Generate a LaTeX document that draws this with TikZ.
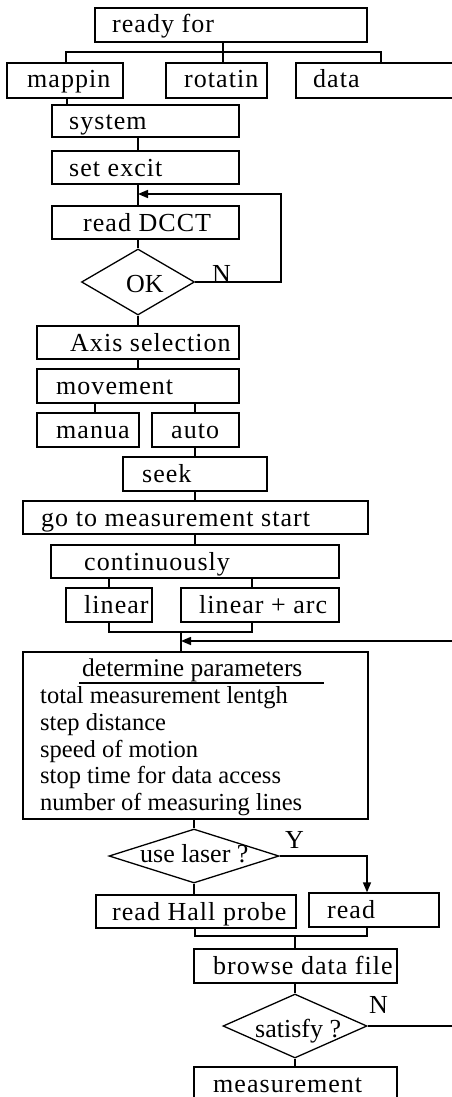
\documentclass[tikz,border=0pt]{standalone}
\usepackage{fontspec}
\setmainfont{Liberation Serif}
\newfontfamily\boxfont[LetterSpace=4]{Liberation Serif}
\newfontfamily\diafont{Liberation Serif}
\newfontfamily\hdrfont{Liberation Serif}
\newfontfamily\listfont{Liberation Serif}
\usetikzlibrary{arrows.meta,shapes.geometric,fit}
\tikzset{
  box/.style={draw, rectangle, line width=1.3pt, inner sep=0pt},
  thickbox/.style={box, line width=2.1pt},
  dia/.style={draw, diamond, line width=1.3pt, inner sep=0pt},
  lbl/.style={anchor=base west, inner sep=0pt, font=\boxfont\fontsize{26}{30}\selectfont},
  dlbl/.style={anchor=base west, inner sep=0pt, font=\diafont\fontsize{26}{30}\selectfont},
  plbl/.style={anchor=base west, inner sep=0pt, font=\listfont\fontsize{24.5}{28}\selectfont},
  hlbl/.style={anchor=base west, inner sep=0pt, font=\hdrfont\fontsize{25.5}{29}\selectfont},
  conn/.style={line width=1.5pt},
  bus/.style={line width=2.1pt},
  arr/.style={conn, -{Triangle[length=10pt,width=8pt]}},
}
% [style] name x1 y1 x2 y2 textx text
\newcommand\flowbox[8][box]{%
  \coordinate (#2-nw) at (#3,#4);
  \coordinate (#2-se) at (#5,#6);
  \node[#1, fit=(#2-nw)(#2-se)] (#2) {};
  \node[lbl] (#2-t) at (#7,#4+25) {#8};
}
\begin{document}
\begin{tikzpicture}[x=1pt,y=-1pt]
\useasboundingbox (0,0) rectangle (451,1097);
% boxes
\flowbox{ready}{95}{8}{367}{42}{112}{ready for}
\flowbox[thickbox]{map}{7}{63}{123}{98}{27}{mappin}
\flowbox{rot}{166}{63}{267}{98}{184}{rotatin}
\flowbox{data}{296}{63}{475}{98}{313}{data}
\flowbox{sys}{52}{105}{239}{137}{69}{system}
\flowbox{excit}{52}{151}{239}{184}{69}{set excit}
\flowbox{dcct}{52}{206}{239}{239}{83}{read DCCT}
\node[dia, minimum width=113pt, minimum height=66pt] (ok) at (138,282) {};
\node[dlbl] (ok-t) at (126,292) {OK};
\node[dlbl] (ok-n) at (212,282) {N};
\flowbox{axis}{37}{326}{239}{359}{70}{Axis selection}
\flowbox{move}{37}{369}{239}{403}{56}{movement}
\flowbox{manua}{37}{413}{139}{447}{56}{manua}
\flowbox{auto}{152}{413}{239}{447}{171}{auto}
\flowbox{seek}{123}{457}{267}{491}{142}{seek}
\flowbox{start}{23}{501}{368}{534}{41}{go to measurement start}
\flowbox{cont}{51}{545}{339}{578}{84}{continuously}
\flowbox{lin}{66}{588}{152}{622}{84}{linear}
\flowbox{arc}{181}{588}{339}{622}{199}{linear + arc}
% parameters box
\coordinate (det-nw) at (23,652);
\coordinate (det-se) at (368,819);
\node[box, fit=(det-nw)(det-se)] (det) {};
\node[hlbl] (det-h) at (82,676) {determine parameters};
\draw[bus] (79,683) -- (324,683);
\node[plbl] (p1) at (40,703) {total measurement lentgh};
\node[plbl] (p2) at (40,730) {step distance};
\node[plbl] (p3) at (40,757) {speed of motion};
\node[plbl] (p4) at (40,783) {stop time for data access};
\node[plbl] (p5) at (40,810) {number of measuring lines};
\node[dia, minimum width=170pt, minimum height=54pt] (laser) at (194,856) {};
\node[dlbl] (laser-t) at (140,862) {use laser ?};
\node[dlbl] (laser-y) at (285,848) {Y};
\flowbox{hall}{96}{895}{296}{928}{112}{read Hall probe}
\flowbox{read}{309}{893}{439}{927}{327}{read}
\flowbox{browse}{194}{949}{397}{983}{213}{browse data file}
\node[dia, minimum width=144pt, minimum height=64pt] (sat) at (295,1026) {};
\node[dlbl] (sat-t) at (255,1037) {satisfy ?};
\node[dlbl] (sat-n) at (369,1013) {N};
\flowbox{meas}{194}{1067}{397}{1115}{213}{measurement}
% connectors
\draw[conn] (ready.south -| 223,0) -- (rot.north -| 223,0);
\draw[bus] (map.north -| 66,0) -- (66,52) -- (381,52) -- (data.north -| 381,0);
\draw[bus] (map.south -| 67,0) -- (sys.north -| 67,0);
\draw[conn] (sys.south -| 138,0) -- (excit.north -| 138,0);
\draw[conn] (excit.south -| 138,0) -- (dcct.north -| 138,0);
\draw[conn] (dcct.south -| ok.north) -- (ok.north);
\coordinate (join1) at (138,194);
\draw[arr] (ok.east) -- (281,282) |- (join1);
\draw[conn] (ok.south) -- (axis.north -| ok.south);
\draw[conn] (axis.south -| 138,0) -- (move.north -| 138,0);
\draw[conn] (move.south -| 95,0) -- (manua.north -| 95,0);
\draw[conn] (move.south -| 195,0) -- (auto.north -| 195,0);
\draw[conn] (auto.south -| 195,0) -- (seek.north -| 195,0);
\draw[conn] (seek.south -| 195,0) -- (start.north -| 195,0);
\draw[conn] (start.south -| 195,0) -- (cont.north -| 195,0);
\draw[conn] (cont.south -| 109,0) -- (lin.north -| 109,0);
\draw[conn] (cont.south -| 252,0) -- (arc.north -| 252,0);
\draw[conn] (lin.south -| 109,0) -- (109,632) -- (252,632) -- (arc.south -| 252,0);
\draw[conn] (181,632) -- (det.north -| 181,0);
\coordinate (join2) at (181,641);
\draw[arr] (sat.east) -- (457,1026) |- (join2);
\draw[conn] (det.south -| laser.north) -- (laser.north);
\draw[conn] (laser.south) -- (hall.north -| laser.south);
\draw[arr] (laser.east) -| (read.north -| 367,0);
\draw[conn] (hall.south -| 195,0) -- (195,936) -- (367,936) -- (read.south -| 367,0);
\draw[conn] (295,936) -- (browse.north -| 295,0);
\draw[conn] (browse.south -| sat.north) -- (sat.north);
\draw[conn] (sat.south) -- (meas.north -| sat.south);
\end{tikzpicture}
\end{document}
